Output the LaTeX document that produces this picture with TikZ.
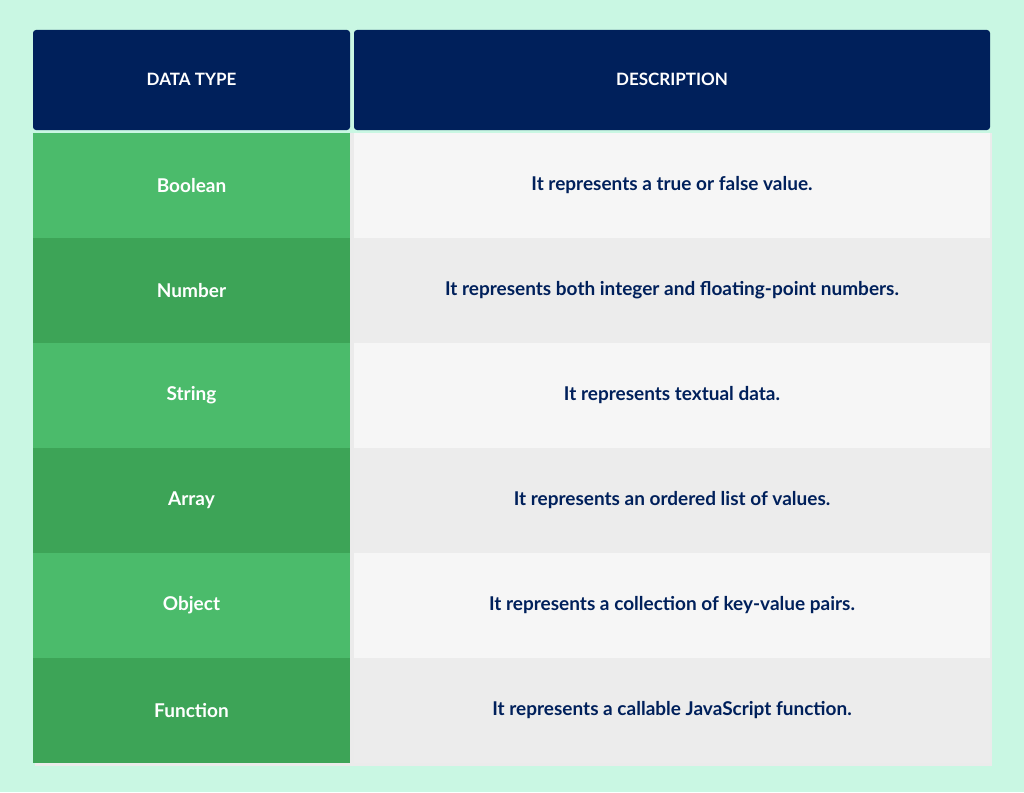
\documentclass[tikz,border=0pt]{standalone}
\usepackage{fontspec}
\setmainfont{Lato}
\definecolor{bg}{HTML}{C9F7E3}
\definecolor{navy}{HTML}{00205B}
\definecolor{gA}{HTML}{4BBB6B}
\definecolor{gB}{HTML}{3DA457}
\definecolor{dA}{HTML}{F6F6F6}
\definecolor{dB}{HTML}{ECECEC}
\tikzset{
 hdr/.style={fill=navy,rounded corners=3pt},
 hdrtxt/.style={text=white,font=\bfseries\fontsize{17}{20}\selectfont},
 celltxt/.style={font=\bfseries\fontsize{19}{22}\selectfont},
}
\begin{document}
\begin{tikzpicture}[x=1pt,y=-1pt]
\fill[bg] (0,0) rectangle (1024,792);
\useasboundingbox (0,0) rectangle (1024,792);
\fill[black!8] (35,133) rectangle (992,766);
\fill[hdr] (33,30) rectangle (350,130);
\fill[hdr] (354,30) rectangle (990,130);
\node[hdrtxt] (h1) at (191.5,79) {DATA TYPE};
\node[hdrtxt] (h2) at (672,79) {DESCRIPTION};
\foreach \i/\t/\d in {0/Boolean/{It represents a true or false value.},1/Number/{It represents both integer and floating-point numbers.},2/String/{It represents textual data.},3/Array/{It represents an ordered list of values.},4/Object/{It represents a collection of key-value pairs.},5/Function/{It represents a callable JavaScript function.}}{
 \pgfmathsetmacro\ya{133+105*\i}
 \pgfmathsetmacro\yb{\ya+105}
 \pgfmathsetmacro\yc{\ya+52.5}
 \pgfmathparse{mod(\i,2)==0?"gA":"gB"}\edef\gc{\pgfmathresult}
 \pgfmathparse{mod(\i,2)==0?"dA":"dB"}\edef\dc{\pgfmathresult}
 \fill[\gc] (33,\ya) rectangle (350,\yb);
 \fill[\dc] (354,\ya) rectangle (990,\yb);
 \node[celltxt,text=white] (t\i) at (191.5,\yc) {\t};
 \node[celltxt,text=navy] (d\i) at (672,\yc) {\d};
}
\end{tikzpicture}
\end{document}
